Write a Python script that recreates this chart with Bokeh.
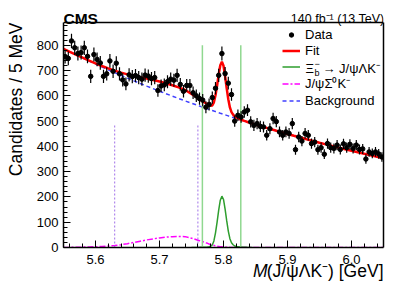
import math
from bokeh.plotting import figure
from bokeh.models import (Range1d, SingleIntervalTicker, FixedTicker, Label, Legend, LegendItem,
                          ColumnDataSource, PrintfTickFormatter, LinearAxis, Span, Title)
from bokeh.embed import file_html
from bokeh.resources import INLINE

# ---------------- data ----------------
MASS_MIN, MASS_MAX, BIN_WIDTH = 5.55, 6.05, 0.005
BOX_TOP = 890          # top of the axes box (counts)
HEADER_TOP = 977       # plot area continues above the box for the header texts

DATA_COUNTS = [
    755, 748, 817, 790, 767, 771, 790, 756, 677, 763,
    744, 730, 677, 687, 738, 697, 729, 687, 663, 647,
    683, 676, 680, 672, 666, 682, 678, 668, 672, 621,
    639, 643, 656, 666, 662, 681, 645, 618, 641, 641,
    612, 600, 589, 583, 555, 566, 593, 630, 681, 767,
    688, 650, 605, 500, 523, 516, 536, 543, 497, 483,
    490, 479, 477, 444, 470, 510, 498, 457, 444, 457,
    451, 490, 387, 437, 421, 451, 444, 411, 417, 387,
    395, 369, 411, 395, 392, 405, 388, 410, 395, 408,
    392, 405, 388, 390, 350, 378, 372, 378, 370, 358,
]

CURVE_MASS = [
    5.55, 5.56, 5.57, 5.58, 5.59, 5.60, 5.61, 5.62, 5.63, 5.64, 5.65,
    5.66, 5.67, 5.68, 5.69, 5.70, 5.71, 5.72, 5.73, 5.74, 5.75, 5.76,
    5.7625, 5.765, 5.7675, 5.77, 5.7725, 5.775, 5.7775, 5.78, 5.7825, 5.785,
    5.7875, 5.79, 5.7925, 5.795, 5.7975, 5.80, 5.8025, 5.805, 5.8075, 5.81,
    5.8125, 5.815, 5.8175, 5.82, 5.8225, 5.825, 5.8275, 5.83, 5.8325, 5.835,
    5.8375, 5.84, 5.8425, 5.845, 5.8475,
    5.85, 5.86, 5.87, 5.88, 5.89, 5.90, 5.91, 5.92, 5.93, 5.94, 5.95,
    5.96, 5.97, 5.98, 5.99, 6.00, 6.01, 6.02, 6.03, 6.04, 6.05,
]

BACKGROUND = [
    786, 773.5, 761.2, 749.2, 737.3, 725.6, 714.0, 702.7, 691.6, 680.6, 669.8,
    659.2, 648.7, 638.4, 628.3, 618.3, 608.5, 598.8, 589.3, 580.0, 570.8, 561.7,
    559.5, 557.2, 555.0, 552.8, 550.6, 548.4, 546.2, 544.0, 541.9, 539.7,
    537.6, 535.4, 533.3, 531.1, 529.0, 526.9, 524.8, 522.7, 520.6, 518.5,
    516.5, 514.4, 512.4, 510.3, 508.3, 506.3, 504.2, 502.2, 500.2, 498.2,
    496.2, 494.2, 492.3, 490.3, 488.3,
    486.4, 478.6, 471.0, 463.6, 456.2, 449.0, 441.8, 434.8, 427.9, 421.1, 414.4,
    407.9, 401.4, 395.0, 388.8, 382.6, 376.5, 370.5, 364.7, 358.9, 353.2,
]

REFLECTION = [
    0, 0.5, 1, 1.5, 2, 3, 4, 6, 8, 11, 15,
    20, 25, 30, 34, 38, 41, 43, 44, 43, 37, 29,
    27, 25, 23, 21, 18.7, 16.5, 14, 12, 10, 8.5,
    6.7, 5, 4, 3, 2.5, 2, 1.6, 1.2, 0.8, 0.5,
    0.3, 0.2, 0.1, 0, 0, 0, 0, 0, 0, 0,
    0, 0, 0, 0, 0,
    0, 0, 0, 0, 0, 0, 0, 0, 0, 0, 0,
    0, 0, 0, 0, 0, 0, 0, 0, 0, 0,
]

SIGNAL = [
    0, 0, 0, 0, 0, 0, 0, 0, 0, 0, 0,
    0, 0, 0, 0, 0, 0, 0, 0, 0, 0, 0.4,
    0.5, 0.7, 1, 1, 1.2, 2, 3, 5, 10, 26,
    58, 100, 148, 187, 203, 190, 152, 106, 65, 35,
    19, 11, 6, 4, 3, 2, 1.5, 1, 0.7, 0.5,
    0.3, 0.2, 0.1, 0, 0,
    0, 0, 0, 0, 0, 0, 0, 0, 0, 0, 0,
    0, 0, 0, 0, 0, 0, 0, 0, 0, 0,
]

SIGNAL_WINDOW = [5.767, 5.827]
SIGNAL_WINDOW_TOP = 800
SIDEBAND_LINES = [5.63, 5.76]
SIDEBAND_TOP = 490

Y_TICKS = [0, 100, 200, 300, 400, 500, 600, 700, 800]
Y_MINOR_STEP = 20

LEGEND_LABELS = ["Data", "Fit", "Ξb⁻ → J/ψΛK⁻", "J/ψΣ⁰K⁻", "Background"]

FONT = "Liberation Sans"

# ---------------- derived tables ----------------
bin_centers = [MASS_MIN + BIN_WIDTH * (i + 0.5) for i in range(len(DATA_COUNTS))]
err = [math.sqrt(n) for n in DATA_COUNTS]
data_src = ColumnDataSource(dict(
    m=bin_centers, n=DATA_COUNTS,
    lo=[n - e for n, e in zip(DATA_COUNTS, err)],
    hi=[n + e for n, e in zip(DATA_COUNTS, err)],
))
fit = [b + r + s for b, r, s in zip(BACKGROUND, REFLECTION, SIGNAL)]
curve_src = ColumnDataSource(dict(m=CURVE_MASS, bkg=BACKGROUND, refl=REFLECTION, fit=fit))
sig_idx = [i for i, s in enumerate(SIGNAL) if s > 0]
sig_src = ColumnDataSource(dict(
    m=CURVE_MASS[sig_idx[0] - 1: sig_idx[-1] + 2],
    s=SIGNAL[sig_idx[0] - 1: sig_idx[-1] + 2],
))

# ---------------- figure ----------------
p = figure(width=399, height=288, output_backend="svg", toolbar_location=None,
           x_range=Range1d(MASS_MIN, MASS_MAX), y_range=Range1d(0, HEADER_TOP),
           min_border_left=60, min_border_right=16, min_border_top=0, min_border_bottom=41)
p.background_fill_color = "white"
p.border_fill_color = "white"
p.grid.visible = False
p.outline_line_color = None

p.xaxis.ticker = SingleIntervalTicker(interval=0.1, num_minor_ticks=5)
p.yaxis.ticker = FixedTicker(ticks=Y_TICKS, minor_ticks=list(range(0, BOX_TOP, Y_MINOR_STEP)))
p.yaxis.bounds = (0, BOX_TOP)
p.xaxis.formatter = PrintfTickFormatter(format="%.1f")
p.yaxis.formatter = PrintfTickFormatter(format="%d")
for ax in (p.xaxis[0], p.yaxis[0]):
    ax.major_tick_in = 7
    ax.major_tick_out = 0
    ax.minor_tick_in = 4
    ax.minor_tick_out = 0
    ax.major_tick_line_color = "black"
    ax.minor_tick_line_color = "black"
    ax.axis_line_color = "black"
    ax.axis_line_width = 1.5
    ax.major_label_text_font = FONT
    ax.major_label_text_font_size = "13px"
    ax.major_label_text_color = "black"
p.xaxis.major_label_standoff = 7
p.yaxis.major_label_standoff = 5

# right and top edges of the axes box
right_ax = LinearAxis(ticker=FixedTicker(ticks=[]), bounds=(0, BOX_TOP), axis_line_width=1.5,
                      axis_line_color="black", major_tick_line_color=None,
                      minor_tick_line_color=None, major_label_text_font_size="0px")
p.add_layout(right_ax, "right")
p.add_layout(Span(location=BOX_TOP, dimension="width", line_color="black", line_width=1.5))

# components
r_bkg = p.line("m", "bkg", source=curve_src, line_color="#4040ff", line_width=1.5, line_dash="4 3")
r_refl = p.line("m", "refl", source=curve_src, line_color="#ff00ff", line_width=1.5, line_dash="6 2 2 2")
r_sig = p.line("m", "s", source=sig_src, line_color="#2e9e2e", line_width=1.5)
p.segment(x0=SIGNAL_WINDOW, y0=[0] * len(SIGNAL_WINDOW), x1=SIGNAL_WINDOW,
          y1=[SIGNAL_WINDOW_TOP] * len(SIGNAL_WINDOW), line_color="#90d890", line_width=1.5)
p.segment(x0=SIDEBAND_LINES, y0=[0] * len(SIDEBAND_LINES), x1=SIDEBAND_LINES,
          y1=[SIDEBAND_TOP] * len(SIDEBAND_LINES), line_color="#a070e8", line_width=1, line_dash="2 2")
r_fit = p.line("m", "fit", source=curve_src, line_color="#ff0000", line_width=2.5)

p.segment(x0="m", y0="lo", x1="m", y1="hi", source=data_src, line_color="black", line_width=1.2)
r_dots = p.scatter("m", "n", source=data_src, size=4.5, color="black")
r_bar = p.vbar(x=[], top=[], width=0.001, fill_color="black", line_color=None)

legend = Legend(items=[
    LegendItem(label=LEGEND_LABELS[0], renderers=[r_dots]),
    LegendItem(label=LEGEND_LABELS[1], renderers=[r_fit]),
    LegendItem(label=" ", renderers=[r_sig]),
    LegendItem(label=LEGEND_LABELS[3], renderers=[r_refl]),
    LegendItem(label=LEGEND_LABELS[4], renderers=[r_bkg]),
], location=(219, 139))
legend.glyph_width = 18
legend.glyph_height = 11
legend.label_height = 16
legend.label_standoff = 5
legend.padding = 0
legend.spacing = 0
legend.margin = 0
legend.border_line_alpha = 0
legend.background_fill_alpha = 0
legend.label_text_font = FONT
legend.label_text_font_size = "13px"
legend.label_text_color = "black"
p.add_layout(legend)

# vertical error-bar key of the "Data" entry
bar_legend = Legend(items=[LegendItem(label=" ", renderers=[r_bar])], location=(227, 205),
                    glyph_width=2, glyph_height=12, label_height=12, label_text_font_size="1px",
                    padding=0, spacing=0, margin=0, label_standoff=0,
                    border_line_alpha=0, background_fill_alpha=0)
p.add_layout(bar_legend)


def label(text, x, y, size, align="left", baseline="alphabetic", style="normal"):
    p.add_layout(Label(x=x, y=y, x_units="screen", y_units="screen", text=text,
                       text_font=FONT, text_font_size=f"{size}px", text_align=align,
                       text_baseline=baseline, text_font_style=style, text_color="black"))


# Xi_b legend label with sub/superscript
row_y = 179
label("Ξ", 242, row_y, 13, baseline="middle")
label("b", 251, row_y - 4, 9, baseline="middle")
label("−", 251, row_y + 5, 9, baseline="middle")
label("→ J/ψΛK⁻", 259, row_y, 13, baseline="middle")

# header texts
label("CMS", 0, 229, 15.5, style="bold")
label("140 fb⁻¹ (13 TeV)", 321, 229, 12.5, align="right")

# axis titles
p.add_layout(Title(text="Candidates / 5 MeV", align="right", vertical_align="top", offset=22,
                   standoff=11, text_font=FONT, text_font_size="17.5px",
                   text_font_style="normal", text_color="black"), "left")
p.add_layout(Title(text="(J/ψΛK⁻) [GeV]", align="right", vertical_align="top", offset=0,
                   standoff=-11, text_font=FONT, text_font_size="17.5px",
                   text_font_style="normal", text_color="black"), "below")
p.add_layout(Title(text="M", align="right", vertical_align="top", offset=116,
                   standoff=-33, text_font=FONT, text_font_size="17.5px",
                   text_font_style="italic", text_color="black"), "below")

open("out.html", "w").write(file_html(p, INLINE))
